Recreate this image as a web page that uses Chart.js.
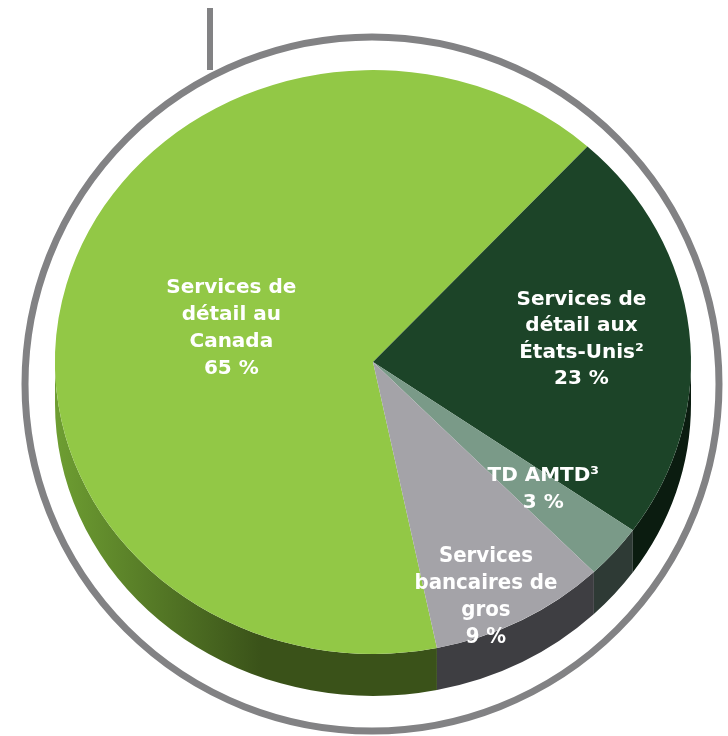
<!DOCTYPE html>
<html>
<head>
<meta charset="utf-8">
<script src="https://cdn.jsdelivr.net/npm/chart.js@4/dist/chart.umd.min.js"></script>
<style>
  body { margin: 0; background: #fff; }
  #wrap { width: 728px; height: 736px; position: relative; }
</style>
</head>
<body>
<div id="wrap"><canvas id="myPieChart"></canvas></div>
<script>
// segment data, clockwise from the wholesale/Canada boundary
var labels = [
    ["Services de", "détail au", "Canada", "65 %"],
    ["Services de", "détail aux", "États-Unis²", "23 %"],
    ["TD AMTD³", "3 %"],
    ["Services", "bancaires de", "gros", "9 %"]
];
var values = [65, 23, 3, 9];

var topColors = ["#92c846", "#1c4428", "#7a9a88", "#a4a3a8"];
var sideColors = [null, "#0b1c10", "#2e3a35", "#3e3e42"];

var tilt = 0.918;   // vertical squash of the pie
var depth = 42;     // thickness of the side in px

var pie3d = {
    id: 'pie3d',
    beforeDraw: function(chart){
        var ctx = chart.ctx;
        ctx.save();
        // grey frame and stem
        ctx.strokeStyle = "#828284";
        ctx.lineWidth = 7;
        ctx.beginPath();
        ctx.arc(372, 384, 347, 0, Math.PI*2);
        ctx.stroke();
        ctx.lineWidth = 6;
        ctx.beginPath();
        ctx.moveTo(210, 8);
        ctx.lineTo(210, 70);
        ctx.stroke();
        ctx.restore();
    },
    beforeDatasetsDraw: function(chart){
        var ctx = chart.ctx;
        var meta = chart.getDatasetMeta(0);
        var cy = meta.data[0].y;
        ctx.save();
        ctx.translate(0, cy);
        ctx.scale(1, tilt);
        ctx.translate(0, -cy);
        var du = depth / tilt;
        meta.data.forEach(function(el, i){
            var s = el.startAngle, e = el.endAngle, R = el.outerRadius;
            [-2, 0, 2, 4].forEach(function(n){
                var lo = n*Math.PI, hi = lo + Math.PI;
                var a = Math.max(s, lo), b = Math.min(e, hi);
                if (b <= a) return;
                ctx.beginPath();
                ctx.arc(el.x, el.y, R, a, b);
                ctx.lineTo(el.x + Math.cos(b)*R, el.y + du + Math.sin(b)*R);
                ctx.arc(el.x, el.y + du, R, b, a, true);
                ctx.closePath();
                if (sideColors[i]) {
                    ctx.fillStyle = sideColors[i];
                } else {
                    var g = ctx.createLinearGradient(el.x - R, 0, el.x - R*0.35, 0);
                    g.addColorStop(0, "#6e9e32");
                    g.addColorStop(1, "#3a5219");
                    ctx.fillStyle = g;
                }
                ctx.fill();
            });
        });
    },
    afterDatasetsDraw: function(chart, args, opts){
        var ctx = chart.ctx;
        ctx.restore();
        var meta = chart.getDatasetMeta(0);
        ctx.save();
        ctx.fillStyle = "#fff";
        ctx.textAlign = "center";
        ctx.textBaseline = "middle";
        meta.data.forEach(function(el, i){
            var mid = (el.startAngle + el.endAngle)/2 + opts.shift[i]*Math.PI/180;
            var r = opts.radius[i] * el.outerRadius;
            var px = el.x + Math.cos(mid)*r;
            var py = el.y + Math.sin(mid)*r*tilt;
            var lines = labels[i];
            var lh = opts.lineHeight[i];
            ctx.font = opts.fonts[i];
            lines.forEach(function(t, j){
                ctx.fillText(t, px, py + (j - (lines.length-1)/2)*lh);
            });
        });
        ctx.restore();
    }
};

var ctx = document.getElementById('myPieChart').getContext('2d');
var chart = new Chart(ctx, {
    type: 'pie',
    data: {
        labels: labels.map(function(l){ return l.slice(0, -1).join(' '); }),
        datasets: [{
            data: values,
            backgroundColor: topColors,
            borderWidth: 0
        }]
    },
    options: {
        responsive: true,
        maintainAspectRatio: false,
        animation: false,
        rotation: 168.4,
        layout: { padding: { left: 55, right: 37, top: 44, bottom: 56 } },
        plugins: {
            legend: { display: false },
            tooltip: { enabled: false },
            pie3d: {
                radius: [0.46, 0.66, 0.69, 0.88],
                shift: [-1, -0.5, -1.5, 4],
                lineHeight: [27, 26.5, 27, 27],
                fonts: ["bold 20px 'DejaVu Sans'", "bold 20px 'DejaVu Sans'", "bold 20px 'DejaVu Sans'", "bold 22px 'Liberation Sans Narrow', 'DejaVu Sans Condensed', sans-serif"]
            }
        }
    },
    plugins: [pie3d]
});
</script>
</body>
</html>
